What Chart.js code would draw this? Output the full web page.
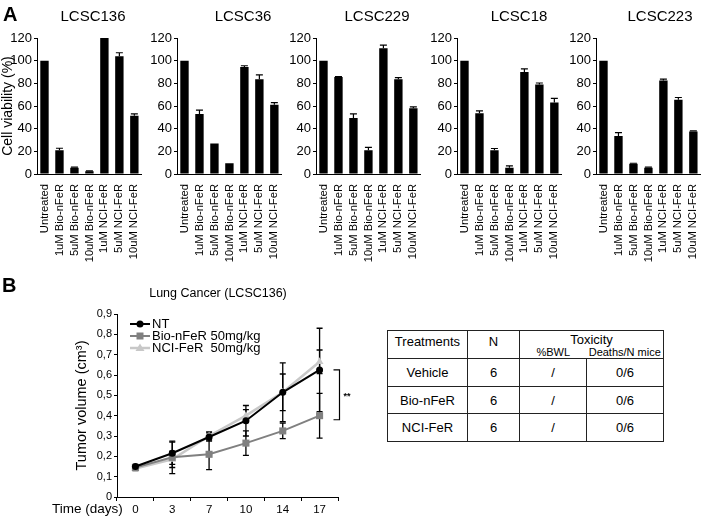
<!DOCTYPE html>
<html>
<head>
<meta charset="utf-8">
<script src="https://cdn.jsdelivr.net/npm/chart.js@4.4.1/dist/chart.umd.min.js"></script>
<style>
  body { margin: 0; background: #fff; }
  #fig { position: relative; width: 709px; height: 517px; overflow: hidden; font-family: 'Liberation Sans', Arial, sans-serif; color: #000; }
  #fig canvas, .txt { position: absolute; }
  .txt { line-height: 1; white-space: nowrap; }
  .panel { font-size: 20px; font-weight: bold; }
  .ttl { font-size: 15px; width: 120px; text-align: center; }
  #tox { position: absolute; left: 387px; top: 330px; border-collapse: collapse; table-layout: fixed; font-size: 13px; }
  #tox td { border: 1px solid #222; text-align: center; padding: 0; }
  #tox tr.head td { vertical-align: top; padding-top: 3px; line-height: 15px; height: 24px; }
  #tox tr.head td.toxcell { line-height: 12px; }
  #tox .sub { display: flex; font-size: 11px; }
  #tox .sub span { display: block; text-align: center; }
</style>
</head>
<body>
<div id="fig">
  <canvas id="bar0" width="150" height="272" style="left:0px;top:0px"></canvas>
  <canvas id="bar1" width="150" height="272" style="left:140px;top:0px"></canvas>
  <canvas id="bar2" width="150" height="272" style="left:279px;top:0px"></canvas>
  <canvas id="bar3" width="150" height="272" style="left:420px;top:0px"></canvas>
  <canvas id="bar4" width="150" height="272" style="left:559px;top:0px"></canvas>
  <canvas id="lineB" width="380" height="237" style="left:0px;top:280px"></canvas>

  <div class="txt panel" style="left:3px;top:4px">A</div>
  <div class="txt panel" style="left:2px;top:275px">B</div>
  <div class="txt ttl" style="left:33px;top:8px">LCSC136</div>
  <div class="txt ttl" style="left:183px;top:8px">LCSC36</div>
  <div class="txt ttl" style="left:317px;top:8px">LCSC229</div>
  <div class="txt ttl" style="left:459px;top:8px">LCSC18</div>
  <div class="txt ttl" style="left:600px;top:8px">LCSC223</div>
  <div class="txt" style="left:118px;top:287px;width:200px;text-align:center;font-size:12.5px">Lung Cancer (LCSC136)</div>
  <div class="txt" style="left:52px;top:502px;font-size:13.5px">Time (days)</div>

  <table id="tox"></table>
</div>

<script>
// Panel A: cell viability (%) per treatment
const doseLabels = ['Untreated', '1uM Bio-nFeR', '5uM Bio-nFeR', '10uM Bio-nFeR', '1uM NCI-FeR', '5uM NCI-FeR', '10uM NCI-FeR'];
const cellLines = ['LCSC136', 'LCSC36', 'LCSC229', 'LCSC18', 'LCSC223'];
const viabilityLCSC136 = [100, 21, 5.5, 2.5, 120, 104, 51.5];
const errorLCSC136 = [0, 1.7, 0.5, 0.3, 0, 3, 1.5];
const viabilityLCSC36 = [100, 53, 27, 9.5, 94.5, 83.5, 61];
const errorLCSC36 = [0, 3.3, 0, 0, 1, 4, 2];
const viabilityLCSC229 = [100, 85.5, 49.5, 21, 111, 83.5, 58];
const errorLCSC229 = [0, 0.5, 3.5, 2.5, 2.8, 1.5, 1.3];
const viabilityLCSC18 = [100, 53.5, 21, 5.5, 90, 79, 63];
const errorLCSC18 = [0, 2.2, 1.5, 1.7, 2.8, 1.3, 3.8];
const viabilityLCSC223 = [100, 33.5, 9, 5.5, 82.5, 65.5, 37.5];
const errorLCSC223 = [0, 3, 0.5, 0.5, 1.2, 2, 0.5];
const viabilityTicks = [0, 20, 40, 60, 80, 100, 120];

// Panel B: tumor volume (cm3) over time
const days = ['0', '3', '7', '10', '14', '17'];
const volumeNT = [0.15, 0.215, 0.295, 0.375, 0.515, 0.625];
const errorNT = [0.01, 0.055, 0.02, 0.075, 0.145, 0.205];
const volumeBio = [0.145, 0.195, 0.21, 0.265, 0.325, 0.40];
const errorBio = [0.01, 0.08, 0.075, 0.06, 0.038, 0.11];
const volumeNCI = [0.14, 0.185, 0.30, 0.40, 0.515, 0.665];
const errorNCI = [0.01, 0.04, 0.02, 0.03, 0.09, 0.058];
const volumeTicks = ['0', '0,1', '0,2', '0,3', '0,4', '0,5', '0,6', '0,7', '0,8', '0,9'];

// Toxicity table
const tableHead = ['Treatments', 'N', 'Toxicity'];
const toxicityCols = ['%BWL', 'Deaths/N mice'];
const tableRows = [
  ['Vehicle', '6', '/', '0/6'],
  ['Bio-nFeR', '6', '/', '0/6'],
  ['NCI-FeR', '6', '/', '0/6']
];

const FONT = "'Liberation Sans', Arial, sans-serif";
Chart.defaults.font.family = FONT;
Chart.defaults.color = '#000';

// vertical error bars from dataset.errors
const errorBars = {
  id: 'errorBars',
  beforeDatasetsDraw(chart, args, opts) {
    const ctx = chart.ctx;
    const y = chart.scales.y;
    ctx.save();
    ctx.strokeStyle = opts.color || '#000';
    ctx.lineWidth = opts.width || 1;
    chart.data.datasets.forEach((ds, di) => {
      const meta = chart.getDatasetMeta(di);
      (ds.errors || []).forEach((e, i) => {
        if (!e) return;
        const x = meta.data[i].x;
        const v = ds.data[i];
        const top = y.getPixelForValue(v + e);
        const bot = opts.upOnly ? y.getPixelForValue(v) : y.getPixelForValue(v - e);
        ctx.beginPath();
        ctx.moveTo(x, bot);
        ctx.lineTo(x, top);
        ctx.moveTo(x - opts.cap, top);
        ctx.lineTo(x + opts.cap, top);
        if (!opts.upOnly) {
          ctx.moveTo(x - opts.cap, bot);
          ctx.lineTo(x + opts.cap, bot);
        }
        ctx.stroke();
      });
    });
    ctx.restore();
  }
};

function makeBarChart(id, name, values, errors, withTitle) {
  new Chart(document.getElementById(id), {
    type: 'bar',
    data: {
      labels: doseLabels,
      datasets: [{
        label: name,
        data: values,
        errors: errors,
        backgroundColor: '#000',
        barPercentage: 0.56,
        categoryPercentage: 1
      }]
    },
    options: {
      responsive: false,
      animation: false,
      layout: { padding: { top: 38, right: 3, left: 0, bottom: 0 } },
      plugins: {
        legend: { display: false },
        tooltip: { enabled: false },
        errorBars: { cap: 3.5, upOnly: true, width: 1.2 }
      },
      scales: {
        x: {
          grid: { display: false },
          border: { color: '#000', width: 1 },
          ticks: { autoSkip: false, minRotation: 90, maxRotation: 90, padding: 2, font: { size: 11.2 } },
          afterFit(s) { s.height = 98; }
        },
        y: {
          min: 0,
          max: 120,
          afterBuildTicks(s) { s.ticks = viabilityTicks.map(v => ({ value: v })); },
          ticks: { padding: 2, font: { size: 13 } },
          grid: { drawOnChartArea: false, tickLength: 3, color: '#000' },
          border: { color: '#000', width: 1 },
          title: { display: withTitle, text: 'Cell viability (%)', font: { size: 14 }, padding: { top: 0, bottom: 0 } },
          afterFit(s) { s.width = 37; }
        }
      }
    },
    plugins: [errorBars]
  });
}

makeBarChart('bar0', cellLines[0], viabilityLCSC136, errorLCSC136, true);
makeBarChart('bar1', cellLines[1], viabilityLCSC36, errorLCSC36, false);
makeBarChart('bar2', cellLines[2], viabilityLCSC229, errorLCSC229, false);
makeBarChart('bar3', cellLines[3], viabilityLCSC18, errorLCSC18, false);
makeBarChart('bar4', cellLines[4], viabilityLCSC223, errorLCSC223, false);

// legend drawn inside the plot: line sample with marker, then label
const inlineLegend = {
  id: 'inlineLegend',
  afterDraw(chart) {
    const { ctx, chartArea } = chart;
    ctx.save();
    chart.data.datasets.forEach((ds, i) => {
      const y = chartArea.top + 10 + i * 12;
      const x0 = chartArea.left + 13;
      const xm = x0 + 10;
      ctx.strokeStyle = ds.borderColor;
      ctx.fillStyle = ds.borderColor;
      ctx.lineWidth = ds.borderWidth;
      ctx.beginPath();
      ctx.moveTo(x0, y);
      ctx.lineTo(x0 + 20, y);
      ctx.stroke();
      ctx.beginPath();
      if (ds.pointStyle === 'circle') {
        ctx.arc(xm, y, 3.5, 0, Math.PI * 2);
      } else if (ds.pointStyle === 'rect') {
        ctx.rect(xm - 3.5, y - 3.5, 7, 7);
      } else {
        ctx.moveTo(xm, y - 4.5);
        ctx.lineTo(xm + 4.5, y + 3);
        ctx.lineTo(xm - 4.5, y + 3);
        ctx.closePath();
      }
      ctx.fill();
      ctx.fillStyle = '#000';
      ctx.font = '13px ' + FONT;
      ctx.textBaseline = 'middle';
      ctx.fillText(ds.label, x0 + 22, y + 0.5);
    });
    ctx.restore();
  }
};

// significance bracket between NT and Bio-nFeR at the last time point
const sigBracket = {
  id: 'sigBracket',
  afterDraw(chart) {
    const { ctx, chartArea } = chart;
    const y = chart.scales.y;
    const last = days.length - 1;
    const yTop = y.getPixelForValue(volumeNT[last]);
    const yBot = y.getPixelForValue(volumeBio[last] - 0.02);
    const x = chartArea.right + 1.5;
    ctx.save();
    ctx.strokeStyle = '#000';
    ctx.lineWidth = 1.2;
    ctx.beginPath();
    ctx.moveTo(x - 6, yTop);
    ctx.lineTo(x, yTop);
    ctx.lineTo(x, yBot);
    ctx.lineTo(x - 6, yBot);
    ctx.stroke();
    ctx.fillStyle = '#000';
    ctx.font = 'bold 9px ' + FONT;
    ctx.textBaseline = 'middle';
    ctx.fillText('**', x + 4, (yTop + yBot) / 2 + 2);
    ctx.restore();
  }
};

new Chart(document.getElementById('lineB'), {
  type: 'line',
  data: {
    labels: days,
    datasets: [
      { label: 'NT', data: volumeNT, errors: errorNT, borderColor: '#000', backgroundColor: '#000',
        borderWidth: 2, pointStyle: 'circle', pointRadius: 3.5, pointBorderWidth: 0 },
      { label: 'Bio-nFeR 50mg/kg', data: volumeBio, errors: errorBio, borderColor: '#808080', backgroundColor: '#808080',
        borderWidth: 2, pointStyle: 'rect', pointRadius: 5, pointBorderWidth: 0 },
      { label: 'NCI-FeR  50mg/kg', data: volumeNCI, errors: errorNCI, borderColor: '#c8c8c8', backgroundColor: '#c8c8c8',
        borderWidth: 2.5, pointStyle: 'triangle', pointRadius: 4.5, pointBorderWidth: 0 }
    ]
  },
  options: {
    responsive: false,
    animation: false,
    layout: { padding: { top: 34, right: 42, left: 0, bottom: 0 } },
    plugins: {
      legend: { display: false },
      tooltip: { enabled: false },
      errorBars: { cap: 3, upOnly: false, width: 1.3 }
    },
    scales: {
      x: {
        offset: true,
        grid: { offset: true, drawOnChartArea: false, tickLength: 4, color: '#000' },
        border: { color: '#000', width: 1 },
        ticks: { padding: 2, font: { size: 11.5 } },
        afterFit(s) { s.height = 20; }
      },
      y: {
        min: 0,
        max: 0.9,
        afterBuildTicks(s) { s.ticks = volumeTicks.map((t, i) => ({ value: i / 10 })); },
        ticks: { padding: 2, font: { size: 11 }, callback: (v, i) => volumeTicks[i] },
        grid: { drawOnChartArea: false, tickLength: 3, color: '#000' },
        border: { color: '#000', width: 1 },
        title: { display: true, text: 'Tumor volume (cm³)', font: { size: 14.5 }, padding: { top: 73, bottom: 0 } },
        afterFit(s) { s.width = 117; }
      }
    }
  },
  plugins: [errorBars, inlineLegend, sigBracket]
});

// build the toxicity table
const colWidths = [80, 52, 67, 77];
const rowHeights = [28, 27, 28];
const table = document.getElementById('tox');
let html = '<colgroup>' + colWidths.map(w => '<col style="width:' + w + 'px">').join('') + '</colgroup>';
html += '<tr class="head"><td>' + tableHead[0] + '</td><td>' + tableHead[1] + '</td>' +
  '<td colspan="2" class="toxcell">' + tableHead[2] + '<div class="sub">' +
  toxicityCols.map((c, i) => '<span style="width:' + colWidths[i + 2] + 'px">' + c + '</span>').join('') +
  '</div></td></tr>';
tableRows.forEach((r, i) => {
  html += '<tr style="height:' + rowHeights[i] + 'px">' + r.map(c => '<td>' + c + '</td>').join('') + '</tr>';
});
table.innerHTML = html;
table.style.width = colWidths.reduce((a, b) => a + b, 0) + 'px';
</script>
</body>
</html>
